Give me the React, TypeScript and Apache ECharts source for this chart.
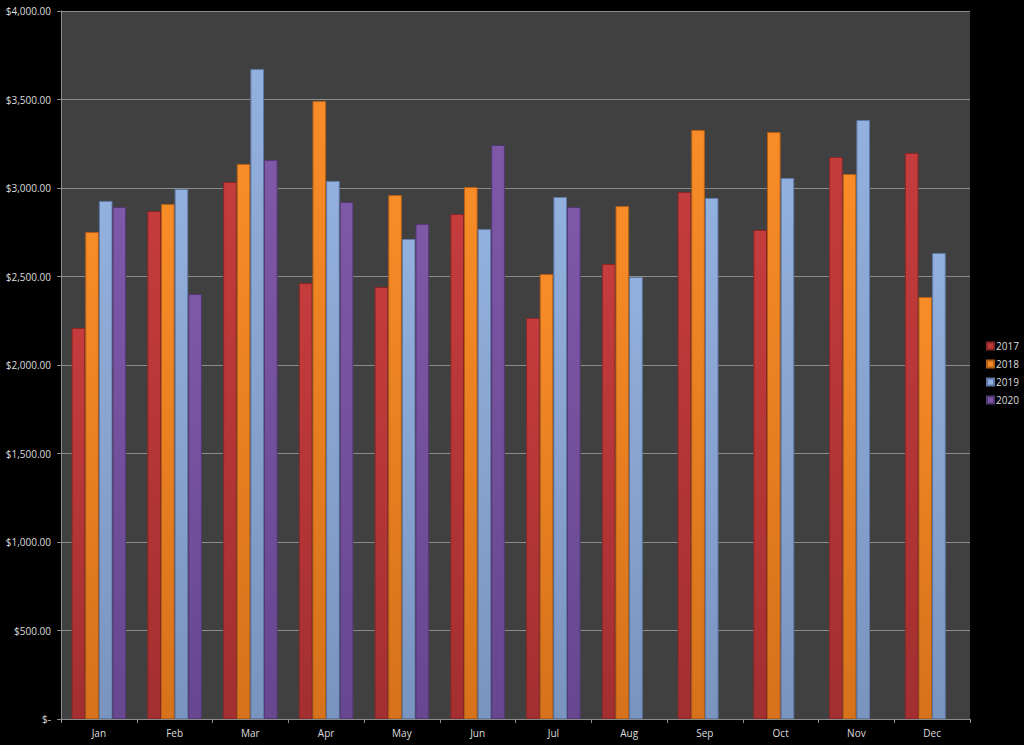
import React, { useEffect, useRef } from "react";
import * as echarts from "echarts";

const months = ["Jan", "Feb", "Mar", "Apr", "May", "Jun", "Jul", "Aug", "Sep", "Oct", "Nov", "Dec"];
const seriesNames = ["2017", "2018", "2019", "2020"];
const v2017 = [2209, 2870, 3034, 2463, 2441, 2853, 2266, 2571, 2977, 2763, 3175, 3198];
const v2018 = [2751, 2910, 3136, 3492, 2960, 3006, 2514, 2898, 3328, 3316, 3079, 2384];
const v2019 = [2927, 2994, 3672, 3040, 2712, 2768, 2949, 2497, 2944, 3056, 3384, 2633];
const v2020 = [2893, 2401, 3158, 2921, 2797, 3243, 2893, null, null, null, null, null];
const yTicks = [0, 500, 1000, 1500, 2000, 2500, 3000, 3500, 4000];

const palette = [
  { top: "#C53C3D", bottom: "#A32F30", edge: "#8A2627", legend: "#C0393A" },
  { top: "#F88C28", bottom: "#D6721B", edge: "#B35F16", legend: "#F58A25" },
  { top: "#93B1DE", bottom: "#7A94C0", edge: "#5F79A6", legend: "#8FAEDD" },
  { top: "#7F58A8", bottom: "#664790", edge: "#523874", legend: "#7C55A5" },
];

function fmt(v: number) {
  if (v === 0) return "$-";
  return "$" + v.toLocaleString("en-US", { minimumFractionDigits: 2, maximumFractionDigits: 2 });
}

export default function App() {
  const ref = useRef<HTMLDivElement>(null);
  useEffect(() => {
    if (!ref.current) return;
    const chart = echarts.init(ref.current, undefined, { renderer: "svg" });
    const data = [v2017, v2018, v2019, v2020];
    const font = "'Open Sans', 'DejaVu Sans', sans-serif";
    chart.setOption({
      animation: false,
      backgroundColor: "#000000",
      textStyle: { fontFamily: font },
      grid: {
        left: 61,
        right: 54,
        top: 11,
        bottom: 26,
        show: true,
        backgroundColor: "#404040",
        borderWidth: 0,
      },
      legend: {
        orient: "vertical",
        left: 981,
        top: 336,
        itemWidth: 7,
        itemHeight: 7,
        itemGap: 8,
        icon: "rect",
        textStyle: { color: "#DDDDDD", fontSize: 10, fontFamily: font, padding: [0, 0, 0, -3] },
        data: seriesNames.map((n, i) => ({ name: n, itemStyle: { color: palette[i].legend } })),
      },
      xAxis: {
        type: "category",
        data: months,
        axisLine: { show: true, lineStyle: { color: "#8C8C8C", width: 1 } },
        axisTick: { show: true, length: 4, lineStyle: { color: "#8C8C8C" } },
        axisLabel: { color: "#DDDDDD", fontSize: 10, margin: 9, fontFamily: font },
        splitLine: { show: false },
      },
      yAxis: {
        type: "value",
        min: 0,
        max: 4000,
        interval: 500,
        axisLine: { show: true, lineStyle: { color: "#8C8C8C", width: 1 } },
        axisTick: { show: true, length: 4, lineStyle: { color: "#8C8C8C" } },
        axisLabel: {
          color: "#DDDDDD",
          fontSize: 10,
          margin: 10,
          fontFamily: font,
          formatter: (v: number) => (yTicks.includes(v) ? fmt(v) : ""),
        },
        splitLine: { show: true, lineStyle: { color: "#8C8C8C", width: 1 } },
      },
      series: seriesNames.map((name, i) => ({
        name,
        type: "bar",
        data: data[i],
        barGap: "0%",
        barCategoryGap: "28%",
        itemStyle: {
          color: new echarts.graphic.LinearGradient(0, 0, 0, 1, [
            { offset: 0, color: palette[i].top },
            { offset: 1, color: palette[i].bottom },
          ]),
          borderColor: palette[i].edge,
          borderWidth: 1,
        },
      })),
    });
    return () => chart.dispose();
  }, []);
  return <div ref={ref} style={{ width: 1024, height: 745, position: "absolute", left: 0, top: 0 }} />;
}
